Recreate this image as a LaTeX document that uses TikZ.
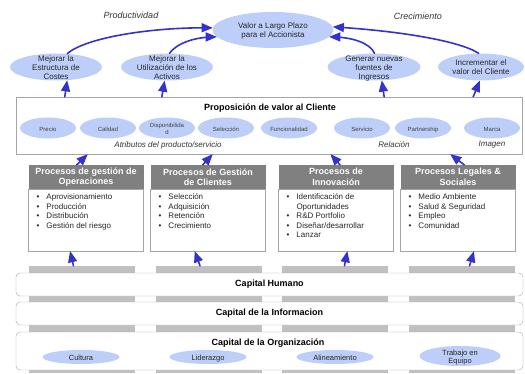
\documentclass[tikz,border=0pt]{standalone}
\usepackage{fontspec}
\setmainfont{Liberation Sans}
\usepackage{tikz}
\usetikzlibrary{arrows,shapes.geometric,positioning}
\definecolor{flecha}{RGB}{51,51,204}
\definecolor{burbuja}{RGB}{189,206,248}
\definecolor{cabecera}{RGB}{128,128,128}
\definecolor{pilar}{RGB}{192,192,192}
\definecolor{borde}{RGB}{165,165,165}
\newcommand{\et}[1]{\makebox[0pt]{\smash{\raisebox{-3.5pt}{\begin{tabular}{@{}c@{}}#1\end{tabular}}}}}
\newcommand{\bul}{\makebox[10pt][l]{\textbullet}}
\begin{document}
\begin{tikzpicture}[line cap=round,line join=round,>=triangle 45,x=1pt,y=1pt,
  bubble/.style={ellipse,fill=burbuja,inner sep=0pt,minimum width=92pt,minimum height=27pt,font=\fontsize{8}{9}\selectfont,text=black!85},
  chip/.style={ellipse,fill=burbuja,inner sep=0pt,minimum width=56pt,minimum height=21pt,font=\fontsize{6}{7}\selectfont,text=black!75},
  pill/.style={ellipse,fill=burbuja,inner sep=0pt,minimum width=77pt,minimum height=14pt,font=\fontsize{7.5}{8.5}\selectfont,text=black!85},
  hdr/.style={rectangle,fill=cabecera,inner sep=0pt,minimum width=115pt,minimum height=24pt,text=white,font=\fontsize{9}{10.5}\selectfont\bfseries,align=center},
  procbox/.style={rectangle,fill=white,draw=borde,inner sep=0pt,minimum width=115pt,minimum height=62pt},
  items/.style={inner sep=0pt,align=left,font=\fontsize{8}{9.5}\selectfont,text=black!85},
  pillar/.style={rectangle,fill=pilar,inner sep=0pt,minimum width=106pt,minimum height=107pt},
  capbox/.style={rectangle,rounded corners=4pt,draw=borde,fill=white,inner sep=0pt,minimum width=507pt,font=\fontsize{9}{10}\selectfont\bfseries},
  tag/.style={font=\fontsize{9}{10}\selectfont\itshape,text=black!80},
  link/.style={->,draw=flecha,line width=1.6pt}]
\useasboundingbox (0,0) rectangle (525,373);
% objetivos financieros
\node[bubble,minimum width=121pt,minimum height=36pt] (valor) at (273,343) {\et{Valor a Largo Plazo\\para el Accionista}};
\node[tag] (prod) at (131,358) {Productividad};
\node[tag] (crec) at (418,357) {Crecimiento};
\node[bubble] (costes) at (56,306) {\et{Mejorar la\\Estructura de\\Costes}};
\node[bubble] (activos) at (167,306) {\et{Mejorar la\\Utilización de los\\Activos}};
\node[bubble,minimum width=93pt] (fuentes) at (374,306) {\et{Generar nuevas\\fuentes de\\Ingresos}};
\node[bubble,minimum width=86pt] (cliente) at (481,306) {\et{Incrementar el\\valor del Cliente}};
% propuesta de valor
\node[rectangle,draw=borde,fill=white,inner sep=0pt,minimum width=506pt,minimum height=57pt] (prop) at (269,247.5) {};
\node[font=\fontsize{9}{10}\selectfont\bfseries] (propt) at (270,265) {Proposición de valor al Cliente};
\foreach \x/\n/\t in {48/precio/Precio,108/calidad/Calidad,167/dispo/{Disponibilida\\d},226/selec/Selección,289/funcion/Funcionalidad,362/servicio/Servicio,423/partner/Partnership,492/marca/Marca}
  \node[chip] (\n) at (\x,245) {\et{\t}};
\node[tag,font=\fontsize{8}{9}\selectfont\itshape] (atrib) at (168,228) {Atributos del producto/servicio};
\node[tag,font=\fontsize{8}{9}\selectfont\itshape] (relac) at (394,228) {Relación};
\node[tag,font=\fontsize{8}{9}\selectfont\itshape] (imagen) at (492,228) {Imagen};
% procesos internos
\foreach \x/\n/\h in {86/oper/{Procesos de gestión de\\Operaciones},208/clie/{Procesos de Gestión\\de Clientes},336/inno/{Procesos de\\Innovación},458/legal/{Procesos Legales \&\\Sociales}}{
  \node[procbox] (b\n) at (\x,153) {};
  \node[hdr] (h\n) at (\x,196) {\h};
}
\node[items,below right=5pt and 8pt of boper.north west] (loper) {\bul Aprovisionamiento\\\bul Producción\\\bul Distribución\\\bul Gestión del riesgo};
\node[items,below right=5pt and 8pt of bclie.north west] (lclie) {\bul Selección\\\bul Adquisición\\\bul Retención\\\bul Crecimiento};
\node[items,below right=5pt and 8pt of binno.north west] (linno) {\bul Identificación de\\\hspace*{10pt}Oportunidades\\\bul R\&D Portfolio\\\bul Diseñar/desarrollar\\\bul Lanzar};
\node[items,below right=5pt and 8pt of blegal.north west] (llegal) {\bul Medio Ambiente\\\bul Salud \& Seguridad\\\bul Empleo\\\bul Comunidad};
% aprendizaje y crecimiento
\foreach \x/\n in {82/1,208.5/2,335/3,462/4}
  \node[pillar] (col\n) at (\x,53.5) {};
\node[capbox,minimum height=23pt] (humano) at (269.5,88.5) {Capital Humano};
\node[capbox,minimum height=23pt] (info) at (269.5,59.5) {Capital de la Informacion};
\node[capbox,minimum height=38pt] (organiz) at (269.5,22) {};
\node[font=\fontsize{9}{10}\selectfont\bfseries] (orgt) at (268,30) {Capital de la Organización};
\node[pill] (cultura) at (81,16) {\et{Cultura}};
\node[pill] (lider) at (208,16) {\et{Liderazgo}};
\node[pill] (alinea) at (335,16) {\et{Alineamiento}};
\node[pill,minimum width=81pt,minimum height=20pt] (equipo) at (460,17) {\et{Trabajo en\\Equipo}};
% flechas
\draw[link] (costes.50) .. controls (85,335) and (150,346) .. (valor.178);
\draw[link] (activos.80) .. controls (177,330) and (195,336) .. (valor.187);
\draw[link] (fuentes.88) .. controls (370,330) and (352,336) .. (valor.353);
\draw[link] (cliente.100) .. controls (460,332) and (400,342) .. (valor.3);
\draw[link] (prop.172) -- (costes.-50);
\draw[link] (prop.165) -- (activos.-100);
\draw[link] (prop.14) -- (fuentes.-60);
\draw[link] (prop.8) -- (cliente.-95);
\draw[link] (hoper.127) -- (prop.189);
\draw[link] (hclie.113) -- (prop.207);
\draw[link] (hinno.72) -- (prop.335);
\draw[link] (hlegal.63) -- (prop.351);
\draw[link] (col1.99) -- (boper.243);
\draw[link] (col2.99) -- (bclie.247);
\draw[link] (col3.80) -- (binno.290);
\draw[link] (col4.82) -- (blegal.297);
\end{tikzpicture}
\end{document}
